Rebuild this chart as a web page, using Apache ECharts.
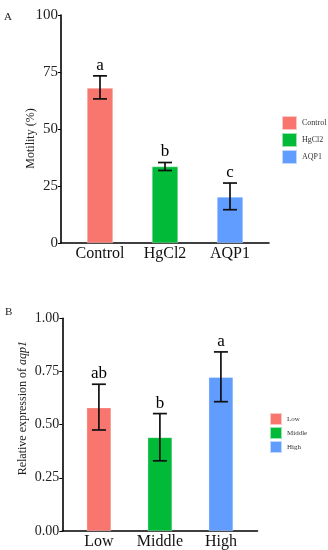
<!DOCTYPE html>
<html><head><meta charset="utf-8">
<script src="https://cdn.jsdelivr.net/npm/echarts@6/dist/echarts.min.js"></script>
<style>html,body{margin:0;padding:0;background:#fff}#c{width:328px;height:550px}</style>
</head><body><div id="c"></div>
<script>
// Panel A data
const catsA = ['Control', 'HgCl2', 'AQP1'];
const valsA = [68, 33.5, 20.2];
const errLoA = [63.2, 31.8, 14.6];
const errHiA = [73.3, 35.3, 26.3];
const lettersA = ['a', 'b', 'c'];
const ticksA = [0, 25, 50, 75, 100];
// Panel B data
const catsB = ['Low', 'Middle', 'High'];
const valsB = [0.58, 0.44, 0.723];
const errLoB = [0.475, 0.33, 0.608];
const errHiB = [0.69, 0.552, 0.842];
const lettersB = ['ab', 'b', 'a'];
const ticksB = ['0.00', '0.25', '0.50', '0.75', '1.00'];
const colors = ['#F8766D', '#00BA38', '#619CFF'];

const SERIF = 'Liberation Serif, Times New Roman, serif';
const chart = echarts.init(document.getElementById('c'), null, {renderer: 'canvas'});

function barSeries(cats, vals, xi, yi, bw) {
  return cats.map((c, i) => ({
    type: 'bar', name: c, xAxisIndex: xi, yAxisIndex: yi, z: 2,
    barWidth: bw, barGap: '-100%',
    itemStyle: {color: colors[i], borderColor: 'rgba(255,255,255,0.6)', borderWidth: 0.5},
    data: cats.map((_, j) => j === i ? vals[j] : '-'),
    silent: true, animation: false
  }));
}
function errSeries(lo, hi, letters, xi, yi) {
  return {
    type: 'custom', xAxisIndex: xi, yAxisIndex: yi, animation: false, silent: true, z: 10,
    data: lo.map((l, i) => [i, l, hi[i]]),
    renderItem: function (params, api) {
      const i = api.value(0);
      const p1 = api.coord([i, api.value(1)]);
      const p2 = api.coord([i, api.value(2)]);
      const hw = 7;
      const st = {stroke: '#111', lineWidth: 1.7};
      return {type: 'group', children: [
        {type: 'line', shape: {x1: p1[0], y1: p1[1], x2: p2[0], y2: p2[1]}, style: st},
        {type: 'line', shape: {x1: p1[0]-hw, y1: p1[1], x2: p1[0]+hw, y2: p1[1]}, style: st},
        {type: 'line', shape: {x1: p2[0]-hw, y1: p2[1], x2: p2[0]+hw, y2: p2[1]}, style: st},
        {type: 'text', style: {text: letters[params.dataIndex], x: p2[0], y: p2[1]-2,
          align: 'center', verticalAlign: 'bottom', fill: '#000',
          font: '17px ' + SERIF}}
      ]};
    }
  };
}

const hiddenY = (max, gi) => ({type: 'value', gridIndex: gi, min: 0, max: max, show: false});

const option = {
  animation: false,
  title: [
    {text: 'A', left: 4, top: 12, padding: 0, textStyle: {fontFamily: SERIF, fontSize: 11, fontWeight: 'normal', color: '#222'}},
    {text: 'B', left: 5, top: 307, padding: 0, textStyle: {fontFamily: SERIF, fontSize: 11, fontWeight: 'normal', color: '#222'}}
  ],
  legend: [
    {data: catsA, orient: 'vertical', left: 281, top: 115, padding: 0, itemWidth: 15, itemHeight: 14, itemGap: 1,
     icon: 'rect', selectedMode: false,
     textStyle: {fontFamily: SERIF, fontSize: 8, color: '#333'}},
    {data: catsB, orient: 'vertical', left: 269, top: 412, padding: 0, itemWidth: 12, itemHeight: 12, itemGap: 0,
     icon: 'rect', selectedMode: false,
     textStyle: {fontFamily: SERIF, fontSize: 7, color: '#333'}}
  ],
  grid: [
    {left: 61, top: 15, width: 208, height: 228},
    {left: 67.5, top: 15, width: 195, height: 228},
    {left: 62.3, top: 318.3, width: 195.2, height: 212.7},
    {left: 68.4, top: 318.3, width: 183, height: 212.7}
  ],
  xAxis: [
    {type: 'value', gridIndex: 0, min: 0, max: 1, axisLine: {show: true, onZero: false, lineStyle: {color: '#000', width: 1.6}},
     axisTick: {show: false}, axisLabel: {show: false}, splitLine: {show: false}},
    {type: 'category', gridIndex: 1, data: catsA, axisLine: {show: false}, axisTick: {show: false},
     axisLabel: {margin: 3, fontFamily: SERIF, fontSize: 16, color: '#111'}},
    {type: 'value', gridIndex: 2, min: 0, max: 1, axisLine: {show: true, onZero: false, lineStyle: {color: '#000', width: 1.6}},
     axisTick: {show: false}, axisLabel: {show: false}, splitLine: {show: false}},
    {type: 'category', gridIndex: 3, data: catsB, axisLine: {show: false}, axisTick: {show: false},
     axisLabel: {margin: 3, fontFamily: SERIF, fontSize: 16, color: '#111'}}
  ],
  yAxis: [
    {type: 'value', gridIndex: 0, min: 0, max: 100, interval: 25,
     name: 'Motility (%)', nameLocation: 'middle', nameGap: 24, nameRotate: 90, nameMoveOverlap: false,
     nameTextStyle: {fontFamily: SERIF, fontSize: 12, color: '#222', padding: [0, 19, 0, 0]},
     axisLine: {show: true, lineStyle: {color: '#000', width: 1.6}},
     axisTick: {show: true, length: 3, lineStyle: {color: '#000', width: 1}},
     axisLabel: {margin: 3, fontFamily: SERIF, fontSize: 15, color: '#222', verticalAlign: 'middle', padding: [0, 0, 7, 0],
       formatter: (v) => String(ticksA[Math.round(v / 25)])},
     splitLine: {show: false}},
    hiddenY(100, 1),
    {type: 'value', gridIndex: 2, min: 0, max: 1, interval: 0.25,
     name: '{n|Relative expression of }{i|aqp1}', nameLocation: 'middle', nameGap: 33, nameRotate: 90, nameMoveOverlap: false,
     nameTextStyle: {fontFamily: SERIF, fontSize: 12, color: '#222', padding: [0, 0, 0, 33],
       rich: {n: {fontFamily: SERIF, fontSize: 12, color: '#222'}, i: {fontFamily: SERIF, fontSize: 12, color: '#222', fontStyle: 'italic'}}},
     axisLine: {show: true, lineStyle: {color: '#000', width: 1.6}},
     axisTick: {show: true, length: 3, lineStyle: {color: '#000', width: 1}},
     axisLabel: {margin: 3, fontFamily: SERIF, fontSize: 14, color: '#222', verticalAlign: 'middle', padding: [0, 0, 7, 0],
       formatter: (v) => ticksB[Math.round(v / 0.25)]},
     splitLine: {show: false}},
    hiddenY(1, 3)
  ],
  series: [].concat(
    barSeries(catsA, valsA, 1, 1, 26),
    [errSeries(errLoA, errHiA, lettersA, 1, 1)],
    barSeries(catsB, valsB, 3, 3, 24.4),
    [errSeries(errLoB, errHiB, lettersB, 3, 3)]
  )
};
chart.setOption(option);
</script></body></html>
